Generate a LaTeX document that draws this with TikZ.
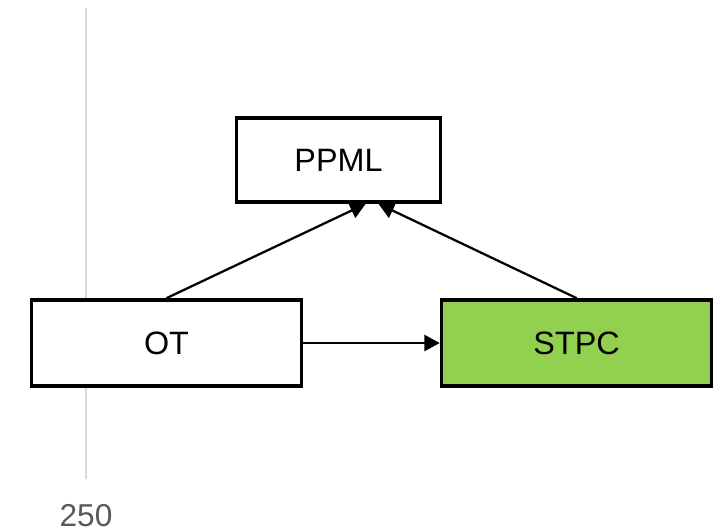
\documentclass[tikz,border=0pt]{standalone}
\usepackage{fontspec}
\setmainfont{Liberation Sans}
\usetikzlibrary{arrows.meta}

\definecolor{stpcgreen}{HTML}{92D050}
\definecolor{axisgray}{HTML}{D9D9D9}
\definecolor{ticktext}{HTML}{595959}

\begin{document}
\begin{tikzpicture}[x=0.025cm, y=-0.025cm, node distance = 10.25cm, auto]
    % Define block styles
    \tikzstyle{block} = [rectangle, draw, line width=2.6pt, fill=white,
        font=\fontsize{23}{27}\selectfont, text centered]
    \tikzstyle{line} = [draw, line width=1.6pt, -{Triangle[length=11pt, width=11.5pt]}]

    \useasboundingbox (0,0) rectangle (723,532);

    % Axis line and tick label
    \draw [axisgray, line width=1.4pt] (86,8) -- (86,479);
    \node [text=ticktext, font=\fontsize{22.5}{26}\selectfont] (tick) at (86,516) {250};

    % Blocks
    \node [block, minimum width=5.1cm, minimum height=2.1cm] (ppml) at (338.5,160) {PPML};
    \node [block, minimum width=6.75cm, minimum height=2.15cm] (ot) at (166.5,343) {OT};
    \node [block, fill=stpcgreen, minimum width=6.75cm, minimum height=2.15cm,
        right of=ot] (stpc) {STPC};

    % Paths
    \path [line] (ot.north) -- ([xshift=0.68cm]ppml.south);
    \path [line] (stpc.north) -- ([xshift=1cm]ppml.south);
    \path [line] (ot) -- (stpc);

\end{tikzpicture}
\end{document}
